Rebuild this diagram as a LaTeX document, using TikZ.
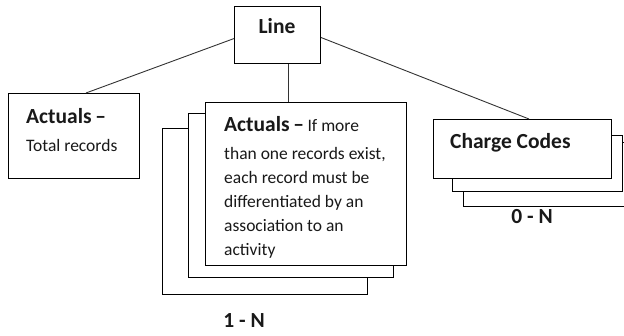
\documentclass[tikz,border=0pt]{standalone}
\usepackage{fontspec}
\setmainfont{Carlito}
\usetikzlibrary{calc}
\tikzset{
  box/.style={draw=black, line width=1.1pt, fill=white, rectangle, inner sep=0pt, anchor=north west},
  conn/.style={draw=black!80, line width=0.9pt},
  head/.style={font=\fontsize{21.5}{24}\selectfont\bfseries, text=black!90, inner sep=0pt, anchor=base west},
  body/.style={font=\fontsize{17.5}{24}\selectfont, text=black!90, inner sep=0pt, anchor=base west},
  mult/.style={font=\fontsize{21.5}{24}\selectfont\bfseries, text=black!90, inner sep=0pt, anchor=base}
}
\begin{document}
\begin{tikzpicture}[x=1pt,y=-1pt]
\useasboundingbox (0,0) rectangle (624,336);
\clip (0,0) rectangle (624,336);
% Line
\node[box, minimum width=86pt, minimum height=57pt] (line) at (234,6) {};
\node[head, anchor=base] (linet) at (277,34) {Line};
% Left actuals
\node[box, minimum width=131pt, minimum height=85pt] (act) at (8,93) {};
\node[head] (actt) at (26,124) {Actuals\,–};
\node[body] (actb) at (26,152) {Total records};
% Actuals stack
\node[box, minimum width=205pt, minimum height=166pt] (s3) at (162,128) {};
\node[box, minimum width=205pt, minimum height=164pt] (s2) at (188,113) {};
\node[box, minimum width=201pt, minimum height=163pt] (s1) at (205,102) {};
\node[head] (s1h) at (224,131.5) {Actuals\,–\,{\fontsize{17.5}{24}\selectfont\mdseries If more}};
\node[body, align=left, anchor=north west] (s1b) at (224,147) {than one records exist,\\each record must be\\differentiated by an\\association to an\\activity};
% Charge codes stack
\node[box, minimum width=170pt, minimum height=64pt] (c3) at (463,142) {};
\node[box, minimum width=170pt, minimum height=56pt] (c2) at (452,135) {};
\node[box, minimum width=178pt, minimum height=59pt] (c1) at (433,119) {};
\node[head] (c1t) at (450,149) {Charge Codes};
% multiplicities
\node[mult] (m1) at (244,328) {1 - N};
\node[mult] (m2) at (532,224) {0 - N};
% connectors
\draw[conn] ($(line.west)+(0,3.5)$) -- ($(act.north west)+(78,0)$);
\draw[conn] ($(line.south west)+(54,0)$) -- ($(s1.north west)+(83,0)$);
\draw[conn] ($(line.east)+(0,2.5)$) -- ($(c1.north west)+(96,0)$);
\end{tikzpicture}
\end{document}
